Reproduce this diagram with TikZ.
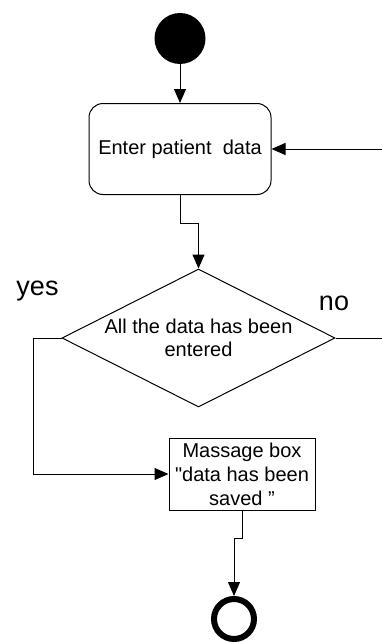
\documentclass[tikz,border=0pt]{standalone}
\usepackage{fontspec}
\setmainfont{Liberation Sans}[Ligatures=TeXOff]
\usetikzlibrary{shapes.geometric,arrows.meta}
\begin{document}
\begin{tikzpicture}[x=1pt,y=-1pt,
  txt/.style={font=\fontsize{20}{23}\selectfont},
  bigtxt/.style={font=\fontsize{27}{30}\selectfont, inner sep=0pt, anchor=base},
  line/.style={draw=black, line width=1pt},
  arr/.style={line, -{Triangle[length=14pt,width=12pt]}},
  startdot/.style={circle, fill=black, minimum size=51pt, inner sep=0pt},
  enddot/.style={circle, draw=black, line width=6pt, minimum size=40pt, inner sep=0pt, outer sep=3pt},
  activity/.style={txt, draw, line width=1pt, rounded corners=14pt, minimum width=182pt, minimum height=91pt, inner sep=0pt},
  decision/.style={diamond, draw, line width=1pt, minimum width=273pt, minimum height=138pt, inner sep=0pt},
  msgbox/.style={draw, line width=1pt, minimum width=146pt, minimum height=72pt, inner sep=0pt, align=center, font=\fontsize{20}{24}\selectfont}
]
\useasboundingbox (0,0) rectangle (382,642);

% nodes
\node[startdot] (start) at (180,38.5) {};
\node[activity] (enter) at (180,149) {Enter patient\ \ data};
\node[decision] (dec) at (198.5,338) {};
\node[txt, align=center, inner sep=0pt] (dectext) at (dec.center) {All the data has been\\entered};
\node[msgbox] (msg) at (242,474) {Massage box\\"data has been\\saved ”};
\node[enddot] (end) at (234,619) {};

\node[bigtxt] (yes) at (37.5,295) {yes};
\node[bigtxt] (no) at (334,310) {no};

% loose ends at the border
\coordinate (back) at (382,149);
\coordinate (noout) at (382,338);

% connectors
\draw[arr] (start) -- (enter);
\draw[arr] (back) -- (enter.east);
\draw[arr] (enter.south) -- ++(0,28) -| (dec.north);
\draw[arr] (dec.west) -- ++(-28.5,0) |- (msg.west);
\draw[line] (dec.east) -- (noout);
\draw[arr] (msg.south) -- ++(0,28) -| (end.north);
\end{tikzpicture}
\end{document}
